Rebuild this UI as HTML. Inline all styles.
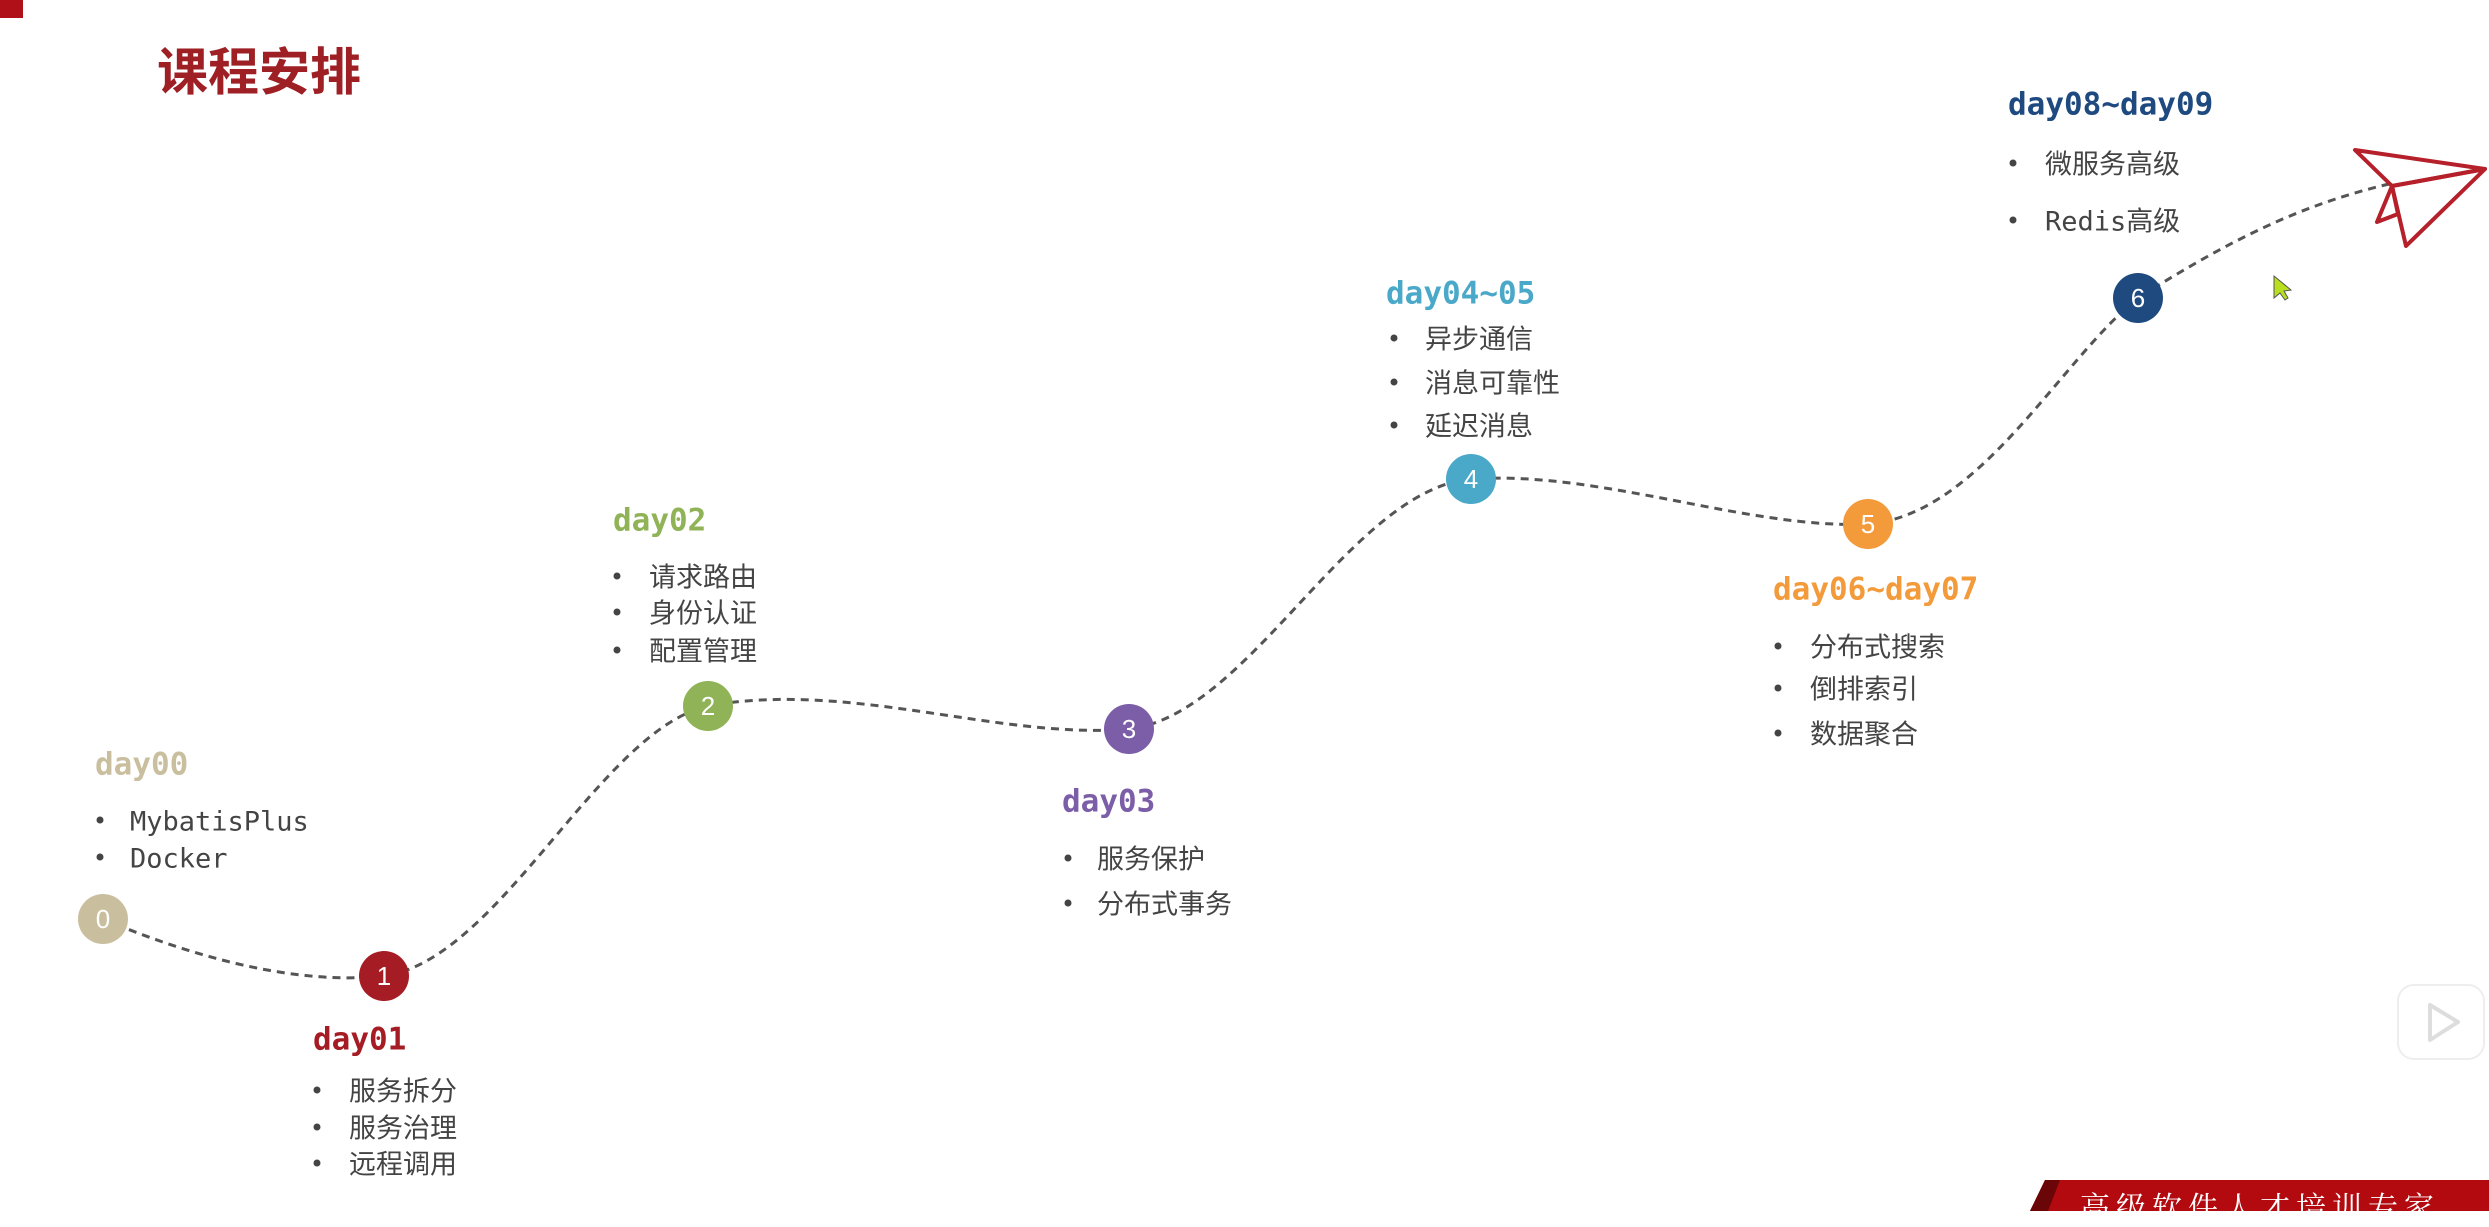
<!DOCTYPE html>
<html><head><meta charset="utf-8"><style>
html,body{margin:0;padding:0;background:#fff;}
body{width:2489px;height:1211px;position:relative;overflow:hidden;font-family:"Liberation Sans","Noto Sans CJK SC",sans-serif;}
.t{position:absolute;font-family:"DejaVu Sans Mono","Liberation Mono",monospace;font-weight:bold;font-size:31px;line-height:1;transform:translateY(-50%);white-space:nowrap;}
.i{position:absolute;font-size:27px;color:#444;line-height:1;transform:translateY(-50%);white-space:nowrap;font-family:"DejaVu Sans Mono","Noto Sans CJK SC",monospace;}
.b{position:absolute;width:7px;height:7px;border-radius:50%;background:#444;transform:translate(-50%,-50%);margin-top:-2px;}
</style></head><body>
<div style="position:absolute;left:0;top:0;width:23px;height:18px;background:#b01018"></div>
<div style="position:absolute;left:157px;top:42px;font-size:51px;font-weight:bold;color:#9e1f24;font-family:'Liberation Sans','Noto Sans CJK SC',sans-serif;line-height:1.2">课程安排</div>

<svg width="2489" height="1211" style="position:absolute;left:0;top:0">
<path d="M103,919 C200,960 300,985 384,976 C500,960 600,730 708,706 C850,680 1000,740 1129,729 C1250,715 1350,490 1471,479 C1600,470 1750,530 1868,524 C1980,515 2060,360 2138,298 C2230,240 2300,205 2389,184" fill="none" stroke="#555" stroke-width="3" stroke-dasharray="8,6"/>
<g stroke="#b5202a" stroke-width="4" fill="none" stroke-linejoin="round">
<polygon points="2355,150 2485,169 2392,186"/>
<polygon points="2392,186 2485,169 2406,246"/>
<polygon points="2392,186 2377,222 2398,214"/>
</g>
<g font-family="Liberation Sans,DejaVu Sans,sans-serif" font-size="26" fill="#fff" text-anchor="middle">
<circle cx="103" cy="919" r="25" fill="#c9bf9f"/><text x="103" y="928">0</text>
<circle cx="384" cy="976" r="25" fill="#a51c24"/><text x="384" y="985">1</text>
<circle cx="708" cy="706" r="25" fill="#8fb356"/><text x="708" y="715">2</text>
<circle cx="1129" cy="729" r="25" fill="#7b5ea7"/><text x="1129" y="738">3</text>
<circle cx="1471" cy="479" r="25" fill="#4aa8c8"/><text x="1471" y="488">4</text>
<circle cx="1868" cy="524" r="25" fill="#f39a3a"/><text x="1868" y="533">5</text>
<circle cx="2138" cy="298" r="25" fill="#1f4a80"/><text x="2138" y="307">6</text>
</g>
<polygon points="2274,276 2274,298 2280,293 2285,300 2288,298 2284,291 2291,290" fill="#b8e020" stroke="#555" stroke-width="1"/>
<rect x="2398" y="985" width="86" height="74" rx="16" fill="#fff" stroke="#eee" stroke-width="2"/>
<polygon points="2430,1005 2430,1040 2458,1022" fill="none" stroke="#ddd" stroke-width="4" stroke-linejoin="round"/>
<polygon points="2030,1211 2045,1180 2489,1180 2489,1211" fill="#b20a0f"/>
<polygon points="2030,1211 2045,1180 2060,1180 2048,1211" fill="#6a0508"/>
</svg>
<div style="position:absolute;left:2080px;top:1183px;font-size:30px;color:#fff;white-space:nowrap;font-family:'Noto Serif CJK SC',serif;letter-spacing:6px">高级软件人才培训专家</div>

<div class="t" style="left:95px;top:765px;color:#c9bf9f">day00</div>
<div class="b" style="left:100px;top:822px"></div><div class="i" style="left:130px;top:822px">MybatisPlus</div>
<div class="b" style="left:100px;top:859px"></div><div class="i" style="left:130px;top:859px">Docker</div>

<div class="t" style="left:313px;top:1040px;color:#a51c24">day01</div>
<div class="b" style="left:317px;top:1092px"></div><div class="i" style="left:349px;top:1092px">服务拆分</div>
<div class="b" style="left:317px;top:1129px"></div><div class="i" style="left:349px;top:1129px">服务治理</div>
<div class="b" style="left:317px;top:1165px"></div><div class="i" style="left:349px;top:1165px">远程调用</div>

<div class="t" style="left:613px;top:521px;color:#8fb356">day02</div>
<div class="b" style="left:617px;top:578px"></div><div class="i" style="left:649px;top:578px">请求路由</div>
<div class="b" style="left:617px;top:614px"></div><div class="i" style="left:649px;top:614px">身份认证</div>
<div class="b" style="left:617px;top:652px"></div><div class="i" style="left:649px;top:652px">配置管理</div>

<div class="t" style="left:1062px;top:802px;color:#7b5ea7">day03</div>
<div class="b" style="left:1068px;top:860px"></div><div class="i" style="left:1097px;top:860px">服务保护</div>
<div class="b" style="left:1068px;top:905px"></div><div class="i" style="left:1097px;top:905px">分布式事务</div>

<div class="t" style="left:1386px;top:294px;color:#4aa8c8">day04~05</div>
<div class="b" style="left:1394px;top:340px"></div><div class="i" style="left:1425px;top:340px">异步通信</div>
<div class="b" style="left:1394px;top:384px"></div><div class="i" style="left:1425px;top:384px">消息可靠性</div>
<div class="b" style="left:1394px;top:427px"></div><div class="i" style="left:1425px;top:427px">延迟消息</div>

<div class="t" style="left:1773px;top:590px;color:#f39a3a">day06~day07</div>
<div class="b" style="left:1778px;top:648px"></div><div class="i" style="left:1810px;top:648px">分布式搜索</div>
<div class="b" style="left:1778px;top:690px"></div><div class="i" style="left:1810px;top:690px">倒排索引</div>
<div class="b" style="left:1778px;top:735px"></div><div class="i" style="left:1810px;top:735px">数据聚合</div>

<div class="t" style="left:2008px;top:105px;color:#1f4a80">day08~day09</div>
<div class="b" style="left:2013px;top:165px"></div><div class="i" style="left:2045px;top:165px">微服务高级</div>
<div class="b" style="left:2013px;top:222px"></div><div class="i" style="left:2045px;top:222px">Redis高级</div>
</body></html>
